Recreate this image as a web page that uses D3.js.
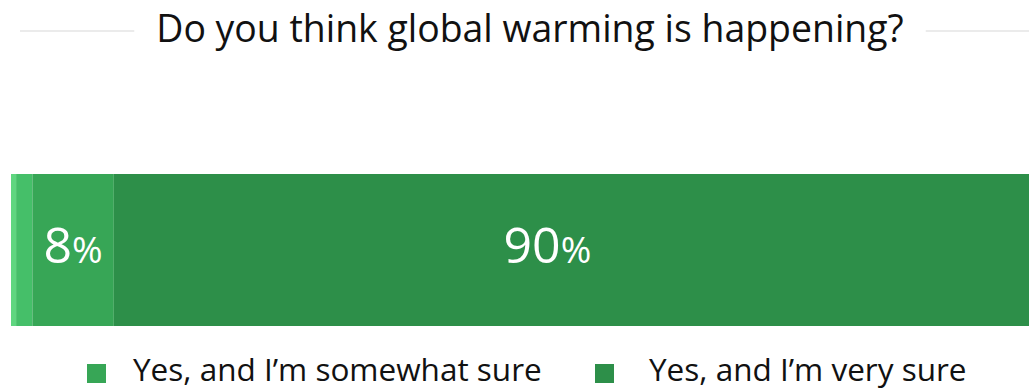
<!DOCTYPE html>
<html><head><meta charset="utf-8">
<script src="https://cdn.jsdelivr.net/npm/d3@7"></script>
<style>body{margin:0;background:#fff;}svg{display:block;font-family:"Open Sans",sans-serif;}</style>
</head><body>
<script>
const title = "Do you think global warming is happening?";
const categories = ["Yes, but not sure", "Yes, a little sure", "Yes, and I’m somewhat sure", "Yes, and I’m very sure"];
const values = [0.5, 1.6, 8, 90];
const colors = ["#5fd680", "#45bf69", "#37a656", "#2d8f49"];
const showLabel = [false, false, true, true];
const legendItems = [2, 3];

const W = 1029, H = 390;
const svg = d3.select("body").append("svg").attr("width", W).attr("height", H);

// title with side rules
const t = svg.append("text").attr("x", 530).attr("y", 42).attr("text-anchor", "middle")
  .attr("font-size", 37.4).attr("fill", "#111").text(title);
const tb = t.node().getBBox();
svg.append("line").attr("x1", 20).attr("x2", tb.x - 22).attr("y1", 31).attr("y2", 31).attr("stroke", "#e5e5e5").attr("stroke-width", 1.5);
svg.append("line").attr("x1", tb.x + tb.width + 22).attr("x2", W).attr("y1", 31).attr("y2", 31).attr("stroke", "#e5e5e5").attr("stroke-width", 1.5);

const x = d3.scaleLinear().domain([0, 100]).range([11, 1029]);
const labelRight = 981;
let acc = 0;
const segs = values.map((v, i) => { const s = {i, v, start: acc, end: acc + v}; acc += v; return s; });

const y0 = 174, bh = 152;
svg.selectAll("rect.seg").data(segs).join("rect").attr("class", "seg")
  .attr("x", d => x(d.start)).attr("width", d => x(d.end) - x(d.start))
  .attr("y", y0).attr("height", bh).attr("fill", d => colors[d.i]);

const lab = svg.selectAll("text.lab").data(segs.filter(d => showLabel[d.i])).join("text").attr("class", "lab")
  .attr("x", d => (x(d.start) + Math.min(x(d.end), labelRight)) / 2)
  .attr("y", 263).attr("text-anchor", "middle").attr("fill", "#fff");
lab.append("tspan").attr("font-size", 50).text(d => Math.round(d.v));
lab.append("tspan").attr("font-size", 37).text("%");

// legend
const legX = [87, 595], legTextX = [133, 649];
legendItems.forEach((ci, k) => {
  svg.append("rect").attr("x", legX[k]).attr("y", 364).attr("width", 19).attr("height", 19).attr("fill", colors[ci]);
  svg.append("text").attr("x", legTextX[k]).attr("y", 381).attr("font-size", 31.5).attr("fill", "#111").text(categories[ci]);
});
</script>
</body></html>
